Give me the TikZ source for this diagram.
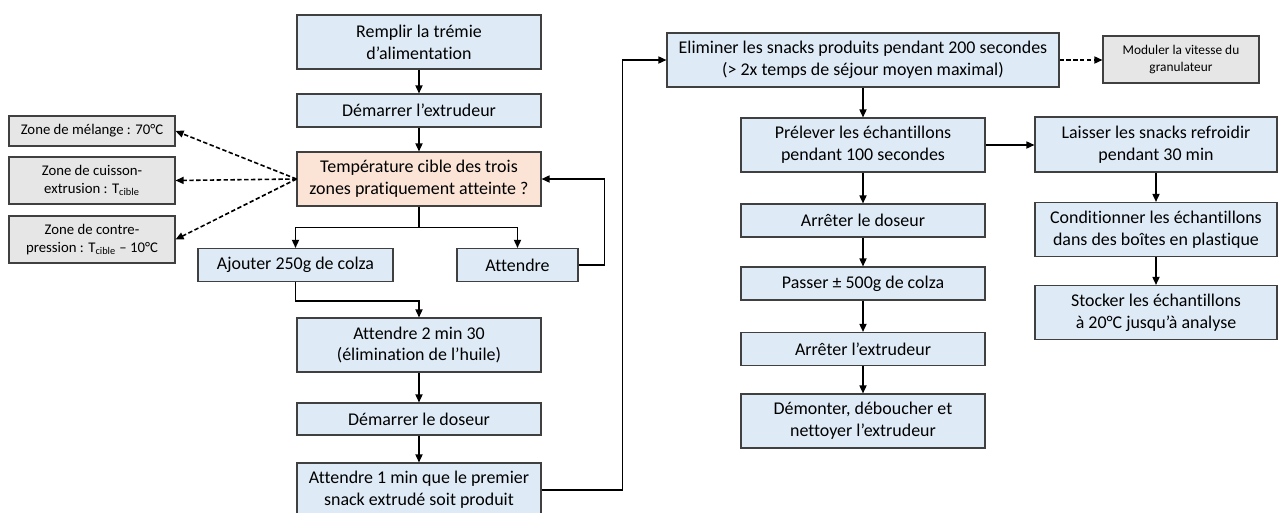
\documentclass[tikz,border=0pt]{standalone}
\usepackage{fontspec}
\setmainfont{Carlito}[Ligatures=NoCommon]
\usepackage{tikz}
\usetikzlibrary{arrows.meta,positioning,calc}
\definecolor{stepfill}{HTML}{DEEBF7}
\definecolor{askfill}{HTML}{FBE3D6}
\definecolor{notefill}{HTML}{E7E6E6}
\definecolor{stepframe}{HTML}{404040}

\begin{document}
\begin{tikzpicture}[
  font=\fontsize{10.2}{12.4}\selectfont,
  stepbox/.style={draw=stepframe,line width=0.6pt,fill=stepfill,align=center,
               minimum width=4.88cm,inner sep=1pt},
  onel/.style={minimum height=0.66cm},
  twol/.style={minimum height=1.08cm},
  askbox/.style={stepbox,twol,fill=askfill},
  notebox/.style={draw=stepframe,line width=0.6pt,fill=notefill,align=center,
               minimum width=3.32cm,minimum height=0.94cm,inner sep=1pt,
               font=\fontsize{8.4}{10.4}\selectfont},
  arr/.style={-{Triangle[length=4.6pt,width=4pt]},line width=0.9pt,draw=black},
  hint/.style={arr,dash pattern=on 2.5pt off 1.4pt}
]
\path[use as bounding box,fill=white] (0,0) rectangle (25.56,-10.24);

\node[stepbox,twol] (fill) at (8.38,-0.84) {Remplir la trémie\\d’alimentation};
\node[stepbox,onel] (start) at (8.38,-2.21) {Démarrer l’extrudeur};
\node[askbox] (temp) at (8.38,-3.58)
  {Température cible des trois\\zones pratiquement atteinte ?};
\node[stepbox,onel,minimum width=3.9cm] (add) at (5.91,-5.30) {Ajouter 250g de colza};
\node[stepbox,onel,minimum width=2.42cm] (wait) at (10.35,-5.30) {Attendre};
\node[stepbox,twol] (oil) at (8.38,-6.90) {Attendre 2 min 30\\(élimination de l’huile)};
\node[stepbox,onel,minimum height=0.64cm] (dose) at (8.38,-8.38) {Démarrer le doseur};
\node[stepbox,twol] (first) at (8.38,-9.80)
  {Attendre 1 min que le premier\\snack extrudé soit produit};

\node[notebox,minimum height=0.60cm] (zmix) at (1.84,-2.62) {Zone de mélange : 70°C};
\node[notebox] (zcook) at (1.84,-3.61) {Zone de cuisson-\\extrusion : T\textsubscript{cible}};
\node[notebox] (zback) at (1.84,-4.79)
  {Zone de contre-\\pression : T\textsubscript{cible} – 10°C};

\node[stepbox,twol,minimum width=7.84cm] (elim) at (17.26,-1.20)
  {Eliminer les snacks produits pendant 200 secondes\\(> 2x temps de séjour moyen maximal)};
\node[notebox,minimum width=3.12cm,font=\fontsize{7.6}{9.4}\selectfont] (mod) at (23.62,-1.19)
  {Moduler la vitesse du\\granulateur};
\node[stepbox,twol] (sample) at (17.26,-2.90) {Prélever les échantillons\\pendant 100 secondes};
\node[stepbox,onel] (stopdose) at (17.26,-4.41) {Arrêter le doseur};
\node[stepbox,onel] (flush) at (17.26,-5.67) {Passer ± 500g de colza};
\node[stepbox,onel] (stopext) at (17.26,-6.98) {Arrêter l’extrudeur};
\node[stepbox,twol] (clean) at (17.26,-8.42) {Démonter, déboucher et\\nettoyer l’extrudeur};

\node[stepbox,twol,minimum width=4.84cm,minimum height=1.10cm] (cool) at (23.12,-2.89)
  {Laisser les snacks refroidir\\pendant 30 min};
\node[stepbox,twol,minimum width=4.84cm] (pack) at (23.12,-4.59)
  {Conditionner les échantillons\\dans des boîtes en plastique};
\node[stepbox,twol,minimum width=4.84cm] (store) at (23.12,-6.25)
  {Stocker les échantillons\\à 20°C jusqu’à analyse};

\draw[arr] (fill) -- (start);
\draw[arr] (start) -- (temp);
\draw[arr] (temp.south) -- ++(0,-0.42) -| (add.north);
\draw[arr] (temp.south) -- ++(0,-0.42) -| (wait.north);
\draw[arr] (wait.east) -- ++(0.52,0) |- (temp.east);
\draw[arr] (add.south) -- ++(0,-0.38) -| (oil.north);
\draw[arr] (oil) -- (dose);
\draw[arr] (dose) -- (first);
\draw[arr] (first.east) -- ++(1.62,0) |- (elim.west);
\draw[hint] (temp.west) -- (zmix.east);
\draw[hint] (temp.west) -- (zcook.east);
\draw[hint] (temp.west) -- (zback.east);

\draw[hint] (elim.east) -- (mod.west |- elim.east);
\draw[arr] (elim) -- (sample);
\draw[arr] (sample.east) -- (cool.west |- sample.east);
\draw[arr] (sample) -- (stopdose);
\draw[arr] (stopdose) -- (flush);
\draw[arr] (flush) -- (stopext);
\draw[arr] (stopext) -- (clean);
\draw[arr] (cool) -- (pack);
\draw[arr] (pack) -- (store);
\end{tikzpicture}
\end{document}
